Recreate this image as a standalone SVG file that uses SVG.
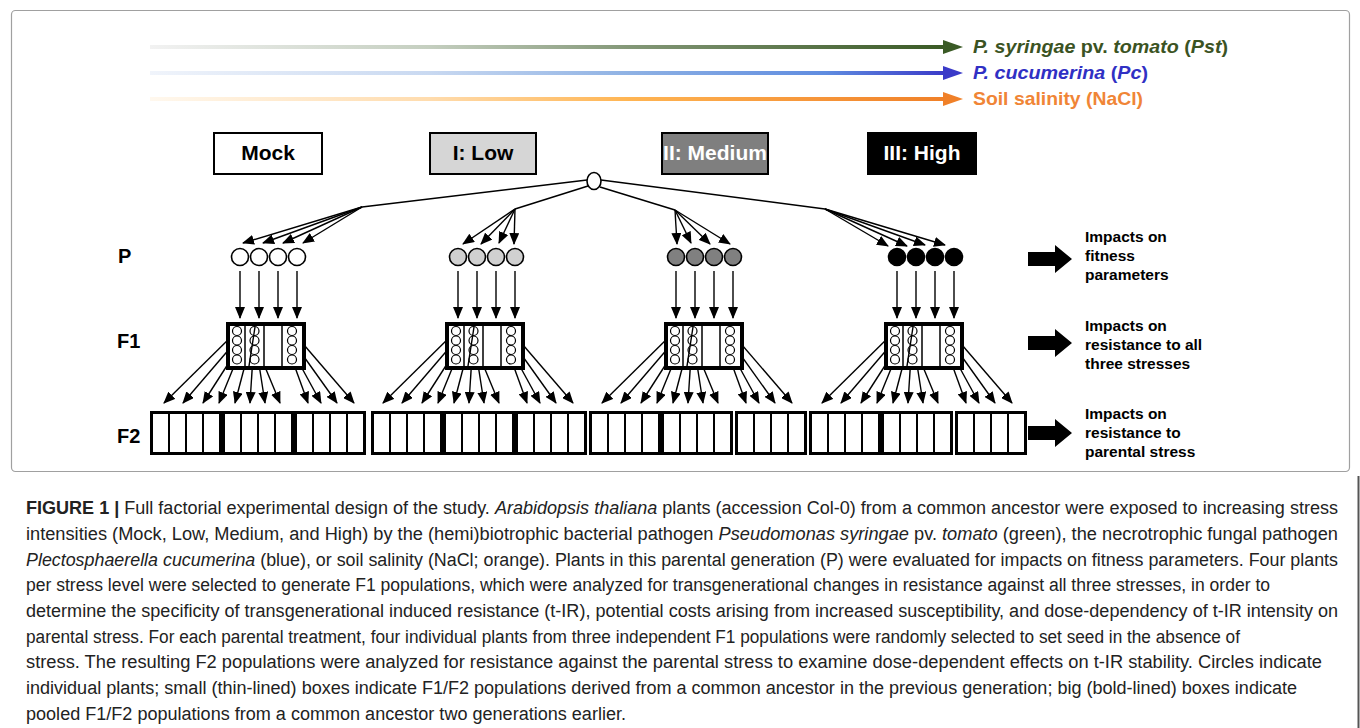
<svg xmlns="http://www.w3.org/2000/svg" width="1360" height="728" viewBox="0 0 1360 728">
<style>
.b{font-family:"Liberation Sans",Arial,sans-serif;font-weight:bold}
.lvl{font-size:21px;text-anchor:middle}
.gen{font-size:20px}
.imp{font-size:15.5px}
.cap{font-family:"Liberation Sans",Arial,sans-serif;font-size:18px;fill:#222}
.ln{stroke:#000;stroke-width:1.5;fill:none}
.arr{stroke:#000;stroke-width:1.4;fill:none;marker-end:url(#ah)}
.pc{stroke:#000;stroke-width:1.6}
.cell{fill:#fff}
</style>
<defs>
<marker id="ah" viewBox="0 0 12 10" refX="11" refY="5" markerWidth="12" markerHeight="10" markerUnits="userSpaceOnUse" orient="auto"><path d="M0,0 L12,5 L0,10 z" fill="#000"/></marker>
<linearGradient id="gG" gradientUnits="userSpaceOnUse" x1="150" y1="0" x2="945" y2="0"><stop offset="0" stop-color="#f2f2f2"/><stop offset="0.35" stop-color="#c5cfc0"/><stop offset="0.6" stop-color="#849878"/><stop offset="1" stop-color="#3a5a25"/></linearGradient>
<linearGradient id="gB" gradientUnits="userSpaceOnUse" x1="150" y1="0" x2="945" y2="0"><stop offset="0" stop-color="#f0f4fb"/><stop offset="0.35" stop-color="#c9d9f1"/><stop offset="0.6" stop-color="#8fb2e4"/><stop offset="0.85" stop-color="#5f8ce0"/><stop offset="1" stop-color="#3a3ac8"/></linearGradient>
<linearGradient id="gO" gradientUnits="userSpaceOnUse" x1="150" y1="0" x2="945" y2="0"><stop offset="0" stop-color="#fff8ee"/><stop offset="0.35" stop-color="#ffdcae"/><stop offset="0.6" stop-color="#ffb553"/><stop offset="1" stop-color="#f08028"/></linearGradient>
<g id="cells4"><rect class="cell" x="0" y="414" width="15" height="38"/><rect class="cell" x="17" y="414" width="15" height="38"/><rect class="cell" x="34" y="414" width="15" height="38"/><rect class="cell" x="51" y="414" width="15" height="38"/></g>
<g id="f1box">
<rect x="-38" y="324" width="76" height="44" fill="#fff" stroke="#000" stroke-width="4"/>
<path d="M-21,326V366M-2,326V366M16,326V366" stroke="#000" stroke-width="1.5"/>
<g fill="#fff" stroke="#000" stroke-width="1.2">
<circle cx="-29" cy="331" r="4.5"/><circle cx="-29" cy="340.5" r="4.5"/><circle cx="-29" cy="350" r="4.5"/><circle cx="-29" cy="359.5" r="4.5"/>
<circle cx="-11.5" cy="331" r="4.5"/><circle cx="-11.5" cy="340.5" r="4.5"/><circle cx="-11.5" cy="350" r="4.5"/><circle cx="-11.5" cy="359.5" r="4.5"/>
<circle cx="26" cy="331" r="4.5"/><circle cx="26" cy="340.5" r="4.5"/><circle cx="26" cy="350" r="4.5"/><circle cx="26" cy="359.5" r="4.5"/>
</g>
<line x1="-11" y1="327" x2="-17" y2="366" stroke="#000" stroke-width="1.4"/>
</g>
<g id="fan">
<line class="arr" x1="-29" y1="331" x2="-102" y2="403"/>
<line class="arr" x1="-29" y1="340" x2="-83" y2="403"/>
<line class="arr" x1="-29" y1="350" x2="-63" y2="403"/>
<line class="arr" x1="-29" y1="359" x2="-47" y2="403"/>
<line class="arr" x1="-11" y1="327" x2="-31" y2="403"/>
<line class="arr" x1="-12" y1="340" x2="-16" y2="403"/>
<line class="arr" x1="-10" y1="345" x2="-1" y2="403"/>
<line class="arr" x1="-8" y1="350" x2="14" y2="403"/>
<line class="arr" x1="26" y1="359" x2="42" y2="403"/>
<line class="arr" x1="26" y1="350" x2="55" y2="403"/>
<line class="arr" x1="26" y1="340" x2="71" y2="403"/>
<line class="arr" x1="26" y1="331" x2="88" y2="403"/>
</g>
<g id="down4">
<line class="arr" x1="0" y1="271" x2="0" y2="318"/>
<line class="arr" x1="19" y1="271" x2="19" y2="318"/>
<line class="arr" x1="38" y1="271" x2="38" y2="318"/>
<line class="arr" x1="57" y1="271" x2="57" y2="318"/>
</g>
<path id="blk" d="M0,-7 H27 V-14 L44,0 L27,14 V7 H0 Z" fill="#000"/>
</defs>

<rect x="0" y="0" width="1360" height="728" fill="#fff"/>
<rect id="frame" x="11.5" y="10.5" width="1338" height="461" rx="4" fill="none" stroke="#a0a0a0" stroke-width="1.2"/>
<line x1="1358.5" y1="476" x2="1358.5" y2="728" stroke="#555" stroke-width="2"/>

<g id="stress-legend">
<line x1="150" y1="47" x2="945" y2="47" stroke="url(#gG)" stroke-width="4"/>
<path d="M943,40 L963,47 L943,54 Z" fill="#3a5a25"/>
<line x1="150" y1="73" x2="945" y2="73" stroke="url(#gB)" stroke-width="4"/>
<path d="M943,66 L963,73 L943,80 Z" fill="#3a3ac8"/>
<line x1="150" y1="99" x2="945" y2="99" stroke="url(#gO)" stroke-width="4"/>
<path d="M943,92 L963,99 L943,106 Z" fill="#f08028"/>
<text class="b" x="973" y="53" font-size="19" fill="#3b5323" textLength="255" lengthAdjust="spacingAndGlyphs"><tspan font-style="italic">P. syringae</tspan> pv. <tspan font-style="italic">tomato</tspan> (<tspan font-style="italic">Pst</tspan>)</text>
<text class="b" x="973" y="79" font-size="19" fill="#3030c4" textLength="175" lengthAdjust="spacingAndGlyphs"><tspan font-style="italic">P. cucumerina</tspan> (<tspan font-style="italic">Pc</tspan>)</text>
<text class="b" x="973" y="105" font-size="19" fill="#f08536" textLength="170" lengthAdjust="spacingAndGlyphs">Soil salinity (NaCl)</text>
</g>

<g id="connectors">
<line class="ln" x1="587" y1="180" x2="362" y2="207"/>
<line class="ln" x1="588" y1="186" x2="515" y2="209"/>
<line class="ln" x1="600" y1="187" x2="675" y2="210"/>
<line class="ln" x1="601" y1="180" x2="825" y2="209"/>
<line class="arr" x1="362" y1="207" x2="243" y2="243"/>
<line class="arr" x1="362" y1="207" x2="263" y2="243"/>
<line class="arr" x1="362" y1="207" x2="283" y2="243"/>
<line class="arr" x1="362" y1="207" x2="303" y2="243"/>
<line class="arr" x1="515" y1="209" x2="463" y2="244"/>
<line class="arr" x1="515" y1="209" x2="481" y2="244"/>
<line class="arr" x1="515" y1="209" x2="499" y2="243"/>
<line class="arr" x1="515" y1="209" x2="514" y2="244"/>
<line class="arr" x1="675" y1="210" x2="677" y2="244"/>
<line class="arr" x1="675" y1="210" x2="691" y2="243"/>
<line class="arr" x1="675" y1="210" x2="710" y2="244"/>
<line class="arr" x1="675" y1="210" x2="730" y2="244"/>
<line class="arr" x1="825" y1="209" x2="888" y2="246"/>
<line class="arr" x1="825" y1="209" x2="907" y2="246"/>
<line class="arr" x1="825" y1="209" x2="925" y2="245"/>
<line class="arr" x1="825" y1="209" x2="945" y2="245"/>
<use href="#down4" x="240"/>
<use href="#down4" x="458"/>
<use href="#down4" x="676"/>
<use href="#down4" x="897"/>
<use href="#fan" x="266"/>
<use href="#fan" x="485"/>
<use href="#fan" x="704"/>
<use href="#fan" x="924"/>
</g>

<g id="level-mock"><rect x="214" y="133" width="108" height="41" fill="#fff" stroke="#000" stroke-width="2"/><text class="b lvl" x="268" y="160">Mock</text></g>
<g id="level-low"><rect x="430" y="133" width="106" height="41" fill="#d6d6d6" stroke="#000" stroke-width="2"/><text class="b lvl" x="483" y="160">I: Low</text></g>
<g id="level-medium"><rect x="662" y="133" width="106" height="41" fill="#7f7f7f" stroke="#000" stroke-width="2"/><text class="b lvl" x="715" y="160" fill="#fff">II: Medium</text></g>
<g id="level-high"><rect x="868" y="133" width="108" height="41" fill="#000" stroke="#000" stroke-width="2"/><text class="b lvl" x="922" y="160" fill="#fff">III: High</text></g>

<g id="ancestor"><ellipse cx="594" cy="181" rx="7" ry="8.5" fill="#fff" stroke="#000" stroke-width="1.6"/></g>

<g id="P-mock" fill="#fff" class="pc"><circle cx="240" cy="257" r="8.5"/><circle cx="259" cy="257" r="8.5"/><circle cx="278" cy="257" r="8.5"/><circle cx="297" cy="257" r="8.5"/></g>
<g id="P-low" fill="#d0d0d0" class="pc"><circle cx="458" cy="257" r="8.5"/><circle cx="477" cy="257" r="8.5"/><circle cx="496" cy="257" r="8.5"/><circle cx="515" cy="257" r="8.5"/></g>
<g id="P-medium" fill="#808080" class="pc"><circle cx="676" cy="257" r="8.5"/><circle cx="695" cy="257" r="8.5"/><circle cx="714" cy="257" r="8.5"/><circle cx="733" cy="257" r="8.5"/></g>
<g id="P-high" fill="#000" class="pc"><circle cx="897" cy="257" r="8.5"/><circle cx="916" cy="257" r="8.5"/><circle cx="935" cy="257" r="8.5"/><circle cx="954" cy="257" r="8.5"/></g>

<g id="F1-mock"><use href="#f1box" x="266"/></g>
<g id="F1-low"><use href="#f1box" x="485"/></g>
<g id="F1-medium"><use href="#f1box" x="704"/></g>
<g id="F1-high"><use href="#f1box" x="924"/></g>

<g id="F2-mock"><rect x="150" y="411" width="216" height="44" fill="#000"/><use href="#cells4" x="153"/><use href="#cells4" x="225"/><use href="#cells4" x="297"/></g>
<g id="F2-low"><rect x="371" y="411" width="216" height="44" fill="#000"/><use href="#cells4" x="374"/><use href="#cells4" x="446"/><use href="#cells4" x="518"/></g>
<g id="F2-medium"><rect x="589" y="411" width="144" height="44" fill="#000"/><rect x="735" y="411" width="72" height="44" fill="#000"/><use href="#cells4" x="592"/><use href="#cells4" x="664"/><use href="#cells4" x="738"/></g>
<g id="F2-high"><rect x="809" y="411" width="144" height="44" fill="#000"/><rect x="955" y="411" width="72" height="44" fill="#000"/><use href="#cells4" x="812"/><use href="#cells4" x="884"/><use href="#cells4" x="958"/></g>

<g id="generation-labels">
<text class="b gen" x="118" y="263">P</text>
<text class="b gen" x="117" y="348">F1</text>
<text class="b gen" x="117" y="443">F2</text>
</g>

<g id="impact-P"><use href="#blk" x="1028" y="259"/><text class="b imp" x="1085"><tspan x="1085" y="242">Impacts on</tspan><tspan x="1085" y="261">fitness</tspan><tspan x="1085" y="280">parameters</tspan></text></g>
<g id="impact-F1"><use href="#blk" x="1028" y="343"/><text class="b imp" x="1085"><tspan x="1085" y="331">Impacts on</tspan><tspan x="1085" y="350">resistance to all</tspan><tspan x="1085" y="369">three stresses</tspan></text></g>
<g id="impact-F2"><use href="#blk" x="1028" y="433"/><text class="b imp" x="1085"><tspan x="1085" y="419">Impacts on</tspan><tspan x="1085" y="438">resistance to</tspan><tspan x="1085" y="457">parental stress</tspan></text></g>

<g id="caption">
<text class="cap" x="26" y="514" textLength="1312" lengthAdjust="spacingAndGlyphs"><tspan font-weight="bold">FIGURE 1 |</tspan> Full factorial experimental design of the study. <tspan font-style="italic">Arabidopsis thaliana</tspan> plants (accession Col-0) from a common ancestor were exposed to increasing stress</text>
<text class="cap" x="26" y="540" textLength="1312" lengthAdjust="spacingAndGlyphs">intensities (Mock, Low, Medium, and High) by the (hemi)biotrophic bacterial pathogen <tspan font-style="italic">Pseudomonas syringae</tspan> pv. <tspan font-style="italic">tomato</tspan> (green), the necrotrophic fungal pathogen</text>
<text class="cap" x="26" y="565.5" textLength="1312" lengthAdjust="spacingAndGlyphs"><tspan font-style="italic">Plectosphaerella cucumerina</tspan> (blue), or soil salinity (NaCl; orange). Plants in this parental generation (P) were evaluated for impacts on fitness parameters. Four plants</text>
<text class="cap" x="26" y="591" textLength="1244" lengthAdjust="spacingAndGlyphs">per stress level were selected to generate F1 populations, which were analyzed for transgenerational changes in resistance against all three stresses, in order to</text>
<text class="cap" x="26" y="617" textLength="1312" lengthAdjust="spacingAndGlyphs">determine the specificity of transgenerational induced resistance (t-IR), potential costs arising from increased susceptibility, and dose-dependency of t-IR intensity on</text>
<text class="cap" x="26" y="642.5" textLength="1214" lengthAdjust="spacingAndGlyphs">parental stress. For each parental treatment, four individual plants from three independent F1 populations were randomly selected to set seed in the absence of</text>
<text class="cap" x="26" y="668" textLength="1296" lengthAdjust="spacingAndGlyphs">stress. The resulting F2 populations were analyzed for resistance against the parental stress to examine dose-dependent effects on t-IR stability. Circles indicate</text>
<text class="cap" x="26" y="694" textLength="1271" lengthAdjust="spacingAndGlyphs">individual plants; small (thin-lined) boxes indicate F1/F2 populations derived from a common ancestor in the previous generation; big (bold-lined) boxes indicate</text>
<text class="cap" x="26" y="719.5" textLength="600" lengthAdjust="spacingAndGlyphs">pooled F1/F2 populations from a common ancestor two generations earlier.</text>
</g>
</svg>
